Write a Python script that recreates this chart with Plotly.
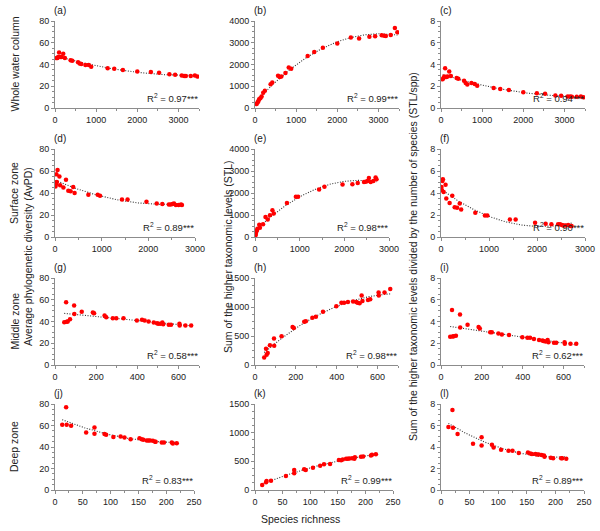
import numpy as np
import plotly.graph_objects as go

W, H = 600, 531

# ---------------- data ----------------
# Whole water column
x_whole = [40, 60, 80, 100, 130, 160, 200, 240, 380, 420, 560, 600, 640, 740, 820, 880,
           1280, 1440, 1650, 2000, 2330, 2530, 2780, 2920, 3080, 3140, 3180, 3300, 3400, 3460]
avpd_whole = [46, 46, 47, 51, 47, 47, 50, 46, 44, 43.5, 42, 41, 40.5, 39.5, 39.5, 38,
              36.5, 36, 35, 33.5, 33, 32.5, 31, 30.5, 30, 29.5, 29.5, 29.5, 30, 29]
stl_whole = [180, 250, 300, 400, 450, 530, 700, 790, 1090, 1170, 1480, 1420, 1450, 1610, 1860, 1800,
             2390, 2570, 2770, 2960, 3240, 3200, 3280, 3300, 3350, 3320, 3310, 3360, 3680, 3480]
stlspp_whole = [2.65, 2.75, 2.9, 3.65, 2.85, 2.9, 3.35, 2.95, 2.75, 2.7, 2.5, 2.3, 2.15, 2.3, 2.2, 2.05,
                1.85, 1.75, 1.65, 1.45, 1.35, 1.3, 1.15, 1.12, 1.05, 1.05, 1.03, 1.03, 1.05, 0.98]

# Surface zone
x_surface = [10, 20, 30, 40, 55, 95, 110, 180, 235, 285, 335, 390, 420, 715, 915, 965,
             1435, 1555, 1960, 2180, 2300, 2440, 2480, 2520, 2550, 2590, 2650, 2700, 2720]
avpd_surface = [46, 48, 57, 50, 61, 55, 47, 45, 52, 42, 41.5, 45.5, 40, 38.5, 38.5, 37.5,
                34, 34, 32, 30.5, 30, 29.5, 29.5, 30, 30.5, 29, 29, 29.5, 29]
stl_surface = [75, 150, 260, 300, 380, 560, 420, 580, 910, 800, 990, 1215, 1065, 1550, 1825, 1830,
               2160, 2280, 2390, 2400, 2460, 2500, 2510, 2540, 2680, 2500, 2540, 2700, 2620]
stlspp_surface = [4.55, 4.25, 5.1, 5.25, 4.1, 4.75, 3.5, 3.1, 3.75, 2.7, 2.65, 3.05, 2.5, 2.2, 1.95, 1.95,
                  1.6, 1.6, 1.3, 1.2, 1.15, 1.15, 1.15, 1.1, 1.05, 1.05, 1.1, 1.0, 1.0]

# Middle zone
x_middle = [45, 54, 57, 62, 73, 93, 94, 130, 184, 190, 241, 249, 281, 298, 333, 398, 423, 436,
            455, 480, 496, 502, 512, 522, 526, 553, 564, 605, 606, 634, 662]
avpd_middle = [39.4, 57.8, 39.7, 40, 42, 54.8, 46.8, 49, 48.3, 47.7, 45.5, 44, 43, 43, 43, 41, 41.5, 41,
               40, 39, 38.5, 38, 38, 39, 37.5, 37, 37, 38, 36.3, 36.3, 36.3]
stl_middle = [128, 280, 175, 205, 340, 455, 330, 495, 655, 640, 745, 755, 815, 830, 920, 1015, 1075, 1075,
              1085, 1095, 1085, 1075, 1065, 1200, 1105, 1120, 1135, 1250, 1200, 1250, 1310]
stlspp_middle = [2.6, 5.05, 2.62, 2.65, 2.7, 4.65, 3.45, 3.7, 3.5, 3.35, 3.0, 3.0, 2.9, 2.8, 2.75, 2.55, 2.5, 2.5,
                 2.4, 2.3, 2.25, 2.2, 2.15, 2.3, 2.1, 2.05, 2.05, 2.1, 1.95, 1.95, 1.95]

# Deep zone
x_deep = [13, 20, 21, 29, 56, 71, 71, 89, 92, 105, 118, 125, 136, 152, 156, 159, 165, 168,
          171, 176, 180, 181, 192, 196, 210, 212, 219]
avpd_deep = [60.7, 77, 60.7, 59.8, 53.5, 58.2, 52.3, 52, 51.4, 49.2, 49.8, 48.9, 47.3, 48.2, 47.3, 46.7, 46, 46,
             46, 45.8, 45, 45, 44.2, 44.2, 44.2, 43.3, 43.6]
stl_deep = [88, 135, 158, 160, 245, 350, 290, 360, 350, 390, 425, 450, 455, 525, 520, 530, 545, 545,
            550, 555, 545, 570, 580, 585, 600, 613, 625]
stlspp_deep = [5.85, 7.45, 5.8, 5.2, 4.3, 4.9, 4.15, 4.2, 3.95, 3.75, 3.65, 3.65, 3.45, 3.5, 3.4, 3.35, 3.35, 3.3,
               3.3, 3.25, 3.2, 3.1, 3.0, 2.95, 2.95, 2.95, 2.9]

panel_letters = ["(a)", "(b)", "(c)", "(d)", "(e)", "(f)", "(g)", "(h)", "(i)", "(j)", "(k)", "(l)"]
r2_values = ["0.97", "0.99", "0.94", "0.89", "0.98", "0.90", "0.58", "0.98", "0.62", "0.83", "0.99", "0.89"]
# polynomial order of each panel's trend line
fit_order = [2, 2, 2, 2, 2, 2, 1, 2, 1, 2, 2, 2]

x_ticks_whole = [0, 1000, 2000, 3000]
x_ticks_surface = [0, 1000, 2000, 3000]
x_ticks_middle = [0, 200, 400, 600]
x_ticks_deep = [0, 50, 100, 150, 200, 250]
y_ticks_avpd = [0, 20, 40, 60, 80]
y_ticks_stl_big = [0, 1000, 2000, 3000, 4000]
y_ticks_stl_small = [0, 500, 1000, 1500]
y_ticks_stlspp = [0, 2, 4, 6, 8]

row_titles = ["Whole water column", "Surface zone", "Middle zone", "Deep zone"]
col_titles = ["Average phylogenetic diversity (AvPD)",
              "Sum of the higher taxonomic levels (STL)",
              "Sum of the higher taxonomic levels divided by the number of species (STL/spp)"]
x_title = "Species richness"

# --------------- layout geometry (pixels) ---------------
rows_px = [(21, 108), (149, 237), (278, 365), (404, 490)]
cols_px = [
    [(55, 199), (255, 399), (441, 585)],
    [(55, 195), (255, 389), (441, 585)],
    [(55, 199), (255, 398), (441, 584)],
    [(55, 194), (255, 393), (441, 584)],
]
x_ranges = [[0, 3500], [0, 3000], [0, 700], [0, 250]]
x_tickvals = [x_ticks_whole, x_ticks_surface, x_ticks_middle, x_ticks_deep]
xs = [x_whole, x_surface, x_middle, x_deep]
ys = [
    [avpd_whole, stl_whole, stlspp_whole],
    [avpd_surface, stl_surface, stlspp_surface],
    [avpd_middle, stl_middle, stlspp_middle],
    [avpd_deep, stl_deep, stlspp_deep],
]
y_tickvals = [
    [y_ticks_avpd, y_ticks_stl_big, y_ticks_stlspp],
    [y_ticks_avpd, y_ticks_stl_big, y_ticks_stlspp],
    [y_ticks_avpd, y_ticks_stl_small, y_ticks_stlspp],
    [y_ticks_avpd, y_ticks_stl_small, y_ticks_stlspp],
]

FONT = "Arial, Liberation Sans, sans-serif"
AX_COL = "#8c8c8c"
TXT_COL = "#222222"

def px_x(p):
    return p / W

def px_y(p):
    return 1 - p / H

fig = go.Figure()
layout = dict(
    width=W, height=H, margin=dict(l=0, r=0, t=0, b=0, autoexpand=False),
    paper_bgcolor="white", plot_bgcolor="white", showlegend=False,
    font=dict(family=FONT, size=9, color=TXT_COL),
)
annotations = []

idx = 0
for r in range(4):
    for c in range(3):
        idx += 1
        xa = "xaxis" if idx == 1 else f"xaxis{idx}"
        ya = "yaxis" if idx == 1 else f"yaxis{idx}"
        xr = "x" if idx == 1 else f"x{idx}"
        yr = "y" if idx == 1 else f"y{idx}"
        x0, x1 = cols_px[r][c]
        y0, y1 = rows_px[r]
        xdata = np.array(xs[r], dtype=float)
        ydata = np.array(ys[r][c], dtype=float)
        coef = np.polyfit(xdata, ydata, fit_order[idx - 1])
        xf = np.linspace(xdata.min(), xdata.max(), 120)
        yf = np.polyval(coef, xf)
        fig.add_trace(go.Scatter(x=xf, y=yf, mode="lines", xaxis=xr, yaxis=yr,
                                 line=dict(color="#333333", width=1.1, dash="1px,1.6px"),
                                 hoverinfo="skip"))
        fig.add_trace(go.Scatter(x=xdata, y=ydata, mode="markers", xaxis=xr, yaxis=yr,
                                 marker=dict(color="#ff0000", size=4.5, line=dict(width=0))))
        yt = y_tickvals[r][c]
        layout[xa] = dict(
            domain=[px_x(x0), px_x(x1)], range=x_ranges[r], anchor=yr, automargin=False,
            tickvals=x_tickvals[r], ticks="outside", ticklen=3, tickcolor=AX_COL,
            showline=True, linecolor=AX_COL, linewidth=1, showgrid=False, zeroline=False,
            tickfont=dict(size=9, color=TXT_COL, family=FONT),
            minor=dict(ticks="outside", ticklen=2, tickcolor=AX_COL,
                       dtick=(x_tickvals[r][1] - x_tickvals[r][0]) / 2),
        )
        layout[ya] = dict(
            domain=[px_y(y1), px_y(y0)], range=[yt[0], yt[-1]], anchor=xr, automargin=False,
            tickvals=yt, ticks="outside", ticklen=3, tickcolor=AX_COL,
            showline=True, linecolor=AX_COL, linewidth=1, showgrid=False, zeroline=False,
            tickfont=dict(size=9, color=TXT_COL, family=FONT),
            minor=dict(ticks="outside", ticklen=2, tickcolor=AX_COL,
                       dtick=(yt[1] - yt[0]) / 4),
        )
        # panel letter
        annotations.append(dict(text=panel_letters[idx - 1], xref="paper", yref="paper",
                                x=px_x(x0 - 3), y=px_y(y0 - 3), xanchor="left", yanchor="bottom",
                                showarrow=False, font=dict(size=10, color=TXT_COL, family=FONT)))
        # R2
        annotations.append(dict(text=f"R<sup>2</sup> = {r2_values[idx - 1]}***",
                                xref="paper", yref="paper",
                                x=px_x(x1 + 1), y=px_y(y1 - 2), xanchor="right", yanchor="bottom",
                                showarrow=False, font=dict(size=9.5, color=TXT_COL, family=FONT)))

for r in range(4):
    yc = (rows_px[r][0] + rows_px[r][1]) / 2
    annotations.append(dict(text=row_titles[r], xref="paper", yref="paper",
                            x=px_x(14), y=px_y(yc), textangle=-90, showarrow=False,
                            xanchor="center", yanchor="middle",
                            font=dict(size=10.5, color=TXT_COL, family=FONT)))

ymid = (rows_px[1][0] + rows_px[2][1]) / 2
for xpos, t in zip([28, 228, 413], col_titles):
    annotations.append(dict(text=t, xref="paper", yref="paper",
                            x=px_x(xpos), y=px_y(ymid), textangle=-90, showarrow=False,
                            xanchor="center", yanchor="middle",
                            font=dict(size=10.5, color=TXT_COL, family=FONT)))

annotations.append(dict(text=x_title, xref="paper", yref="paper",
                        x=px_x(300), y=px_y(519), showarrow=False,
                        xanchor="center", yanchor="middle",
                        font=dict(size=10.5, color=TXT_COL, family=FONT)))

layout["annotations"] = annotations
fig.update_layout(**layout)
fig.write_html("out.html",
               config={"displayModeBar": False, "staticPlot": True},
               post_script="document.body.style.margin='0';document.body.style.overflow='hidden';")
